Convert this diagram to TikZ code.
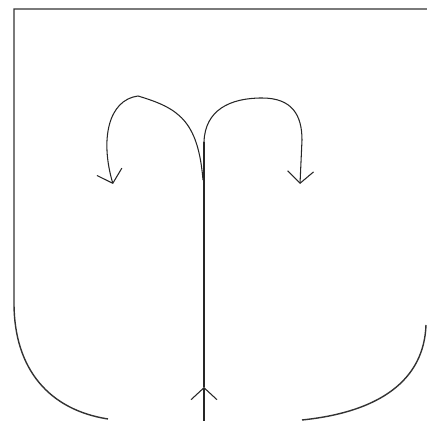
\documentclass[tikz,border=0pt]{standalone}
\usepackage{tikz}
\usetikzlibrary{arrows.meta}

\begin{document}
\begin{tikzpicture}[
  x=0.02cm, y=-0.02cm,                       % one unit = one pixel
  %--- styles --------------------------------------------------------
  wallst/.style = {draw=black!80, line width=0.8pt},
  flowst/.style = {draw=black!85, line width=0.6pt},
  arr/.style    = {flowst, -{Straight Barb[length=0.24cm, width=0.52cm]}},
]
\useasboundingbox (0,0) rectangle (427,421);

% ---- Points -------------------------------------------------------
\coordinate (inlet)  at (204,421);
\coordinate (mid)    at (204,387);
\coordinate (split)  at (204,142);
\coordinate (lstart) at (203,180);
\coordinate (ltip)   at (113,184);
\coordinate (rtip)   at (300,184);

% ---- Vessel -------------------------------------------------------
\draw[wallst] (427,9) -- (14,9) -- (14,303)
    .. controls (14,370) and (50,410) .. (108,419);
\draw[wallst] (426,325) .. controls (424,380) and (380,412) .. (302,420);

% ---- Flow ---------------------------------------------------------
\draw[arr] (inlet) -- (mid);
\draw[flowst] (mid) -- (split);
\draw[arr] (lstart) .. controls (198,120) and (178,108) .. (138,96)
    .. controls (108,100) and (100,140) .. (ltip);
\draw[arr] (split) .. controls (205,110) and (230,98) .. (262,98)
    .. controls (292,98) and (302,115) .. (302,140) -- (rtip);

\end{tikzpicture}
\end{document}
